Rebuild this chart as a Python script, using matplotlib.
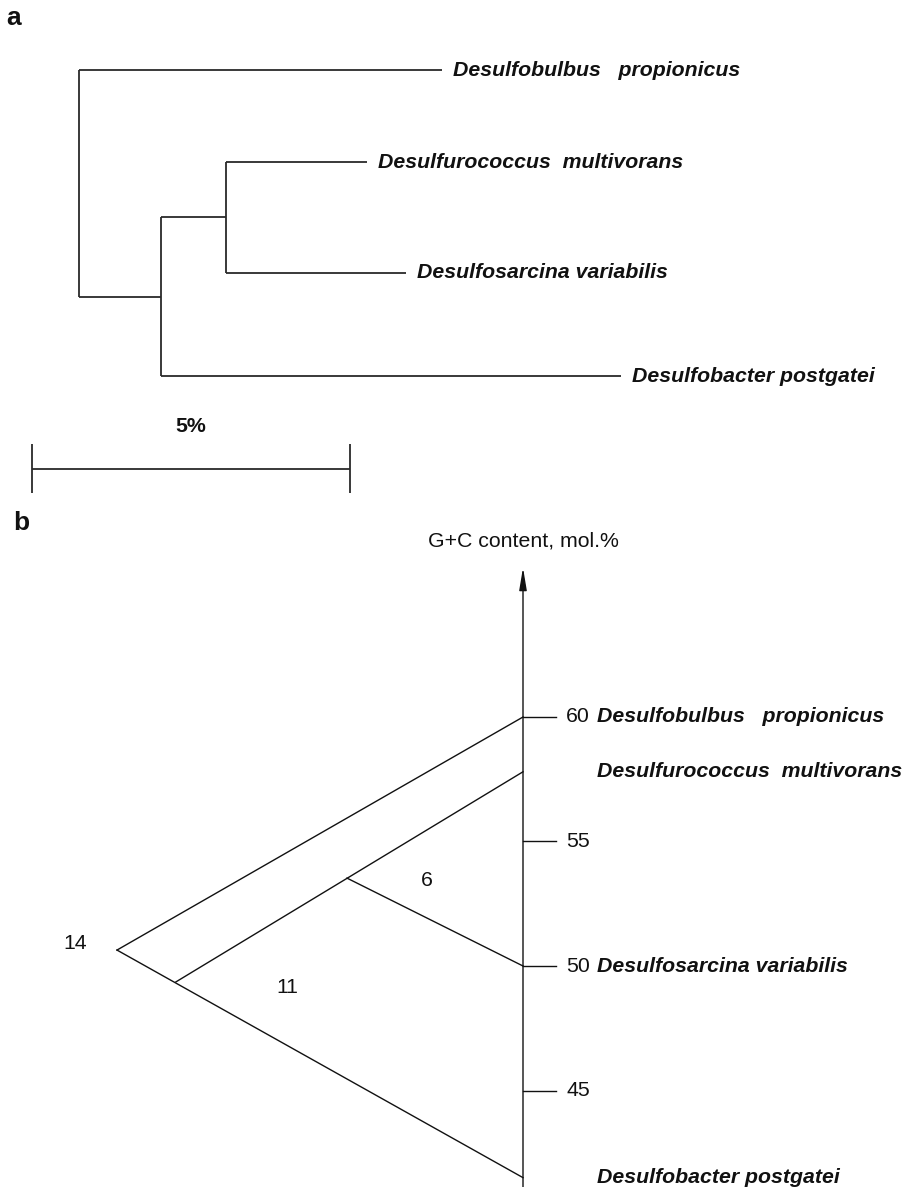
import matplotlib
matplotlib.use("Agg")
import matplotlib.pyplot as plt

plt.rcParams['font.family'] = ['Liberation Sans', 'DejaVu Sans']

# ---------------- data: panel a (16S rRNA tree, % divergence) ----------------
species = ["Desulfobulbus   propionicus", "Desulfurococcus  multivorans",
           "Desulfosarcina variabilis", "Desulfobacter postgatei"]
# branch lengths in % (scale bar = 5 %)
root_to_propionicus = 5.71
root_to_node1 = 1.29
node1_to_node2 = 1.02
node2_to_multivorans = 2.22
node2_to_variabilis = 2.83
node1_to_postgatei = 7.23
scale_bar_value = 5.0
scale_bar_label = "5%"
# vertical placement of the tips (rows)
tip_rows = [0.70, 1.62, 2.73, 3.76]

# ---------------- data: panel b (G+C content) ----------------
gc_axis_label = "G+C content, mol.%"
gc_ticks = [45, 50, 55, 60]
gc_species = ["Desulfobulbus   propionicus", "Desulfurococcus  multivorans",
              "Desulfosarcina variabilis", "Desulfobacter postgatei"]
gc_values = [60.0, 57.8, 50.0, 41.5]
# internal nodes: (distance from axis, G+C)
apex_node = (14.0, 50.64)
inner_node = (11.97, 49.36)
node6 = (6.07, 53.53)
node_labels = ["14", "11", "6"]

W, H = 907, 1187
fig = plt.figure(figsize=(W / 100, H / 100), dpi=100)

FS = 15.3
LC_A = "#2a2a2a"
LW_A = 1.3

# ---------------- panel a ----------------
a_h = 500
ax = fig.add_axes([0, 1 - a_h / H, 1, a_h / H])
px_per_pct = 63.6
root_px = 79
ax.set_xlim(-root_px / px_per_pct, (W - root_px) / px_per_pct)
ax.set_ylim(a_h / 100, 0)
ax.axis("off")

y_prop, y_mult, y_var, y_post = tip_rows
x_root = 0.0
x_n1 = x_root + root_to_node1
x_n2 = x_n1 + node1_to_node2
x_prop = x_root + root_to_propionicus
x_mult = x_n2 + node2_to_multivorans
x_var = x_n2 + node2_to_variabilis
x_post = x_n1 + node1_to_postgatei
y_n2 = (y_mult + y_var) / 2
y_n1 = (y_n2 + y_post) / 2

kw = dict(color=LC_A, lw=LW_A, solid_capstyle="butt")
# root
ax.plot([x_root, x_root], [y_prop, y_n1], **kw)
ax.plot([x_root, x_prop], [y_prop, y_prop], **kw)
ax.plot([x_root, x_n1], [y_n1, y_n1], **kw)
# node1
ax.plot([x_n1, x_n1], [y_n2, y_post], **kw)
ax.plot([x_n1, x_n2], [y_n2, y_n2], **kw)
ax.plot([x_n1, x_post], [y_post, y_post], **kw)
# node2
ax.plot([x_n2, x_n2], [y_mult, y_var], **kw)
ax.plot([x_n2, x_mult], [y_mult, y_mult], **kw)
ax.plot([x_n2, x_var], [y_var, y_var], **kw)

for name, xt, yt in zip(species, [x_prop, x_mult, x_var, x_post], tip_rows):
    ax.annotate(name, (xt, yt), xytext=(8, 0), textcoords="offset points",
                ha="left", va="center", fontsize=FS, fontweight="bold",
                fontstyle="italic", color="#111111")

# scale bar
sb_x0 = -0.74
sb_y = 4.69
ax.plot([sb_x0, sb_x0 + scale_bar_value], [sb_y, sb_y], **kw)
for xx in [sb_x0, sb_x0 + scale_bar_value]:
    ax.plot([xx, xx], [4.44, 4.93], **kw)
ax.text(sb_x0 + scale_bar_value / 2, 4.27, scale_bar_label, ha="center",
        va="center", fontsize=FS, fontweight="bold", color="#111111")

ax.text((14 - root_px) / px_per_pct, 0.18, "a",
        ha="center", va="center", fontsize=19, fontweight="bold", color="#111111")

# ---------------- panel b ----------------
b_top = 500
b_h = H - b_top
bx = fig.add_axes([0, 0, 1, b_h / H])
px_per_unit_x = 29.0
axis_px = 523
px_per_gc = 24.9
gc_ref_px = 717 - b_top  # px of 60 % within panel
bx.set_xlim(axis_px / px_per_unit_x, (axis_px - W) / px_per_unit_x)
bx.set_ylim(60 - (b_h - gc_ref_px) / px_per_gc, 60 + gc_ref_px / px_per_gc)
bx.axis("off")

LC_B = "#111111"
LW_B = 1.0
kb = dict(color=LC_B, lw=LW_B)

ylo, yhi = bx.get_ylim()
arrow_top = 66.0
bx.annotate("", xy=(0, arrow_top), xytext=(0, ylo),
            arrowprops=dict(arrowstyle="-|>,head_length=0.9,head_width=0.15",
                            color=LC_B, lw=LW_B, shrinkA=0, shrinkB=0,
                            mutation_scale=15))
bx.text(0, 67.05, gc_axis_label, ha="center", va="center", fontsize=FS,
        color="#111111")

tick_len = 33 / px_per_unit_x
for t in gc_ticks:
    bx.plot([0, -tick_len], [t, t], **kb)
    bx.annotate(str(t), (0, t), xytext=(31, 0), textcoords="offset points",
                ha="left", va="center", fontsize=FS, color="#111111")

for name, v in zip(gc_species, gc_values):
    bx.annotate(name, (0, v), xytext=(53.5, 0), textcoords="offset points",
                ha="left", va="center", fontsize=FS, fontweight="bold",
                fontstyle="italic", color="#111111")

# branches
bx.plot([apex_node[0], 0], [apex_node[1], gc_values[0]], **kb)
bx.plot([apex_node[0], 0], [apex_node[1], gc_values[3]], **kb)
bx.plot([inner_node[0], 0], [inner_node[1], gc_values[1]], **kb)
bx.plot([node6[0], 0], [node6[1], gc_values[2]], **kb)

bx.text(15.45, 50.92, node_labels[0], ha="center", va="center", fontsize=FS,
        color="#111111")
bx.text(8.14, 49.12, node_labels[1], ha="center", va="center", fontsize=FS,
        color="#111111")
bx.text(3.31, 53.45, node_labels[2], ha="center", va="center", fontsize=FS,
        color="#111111")

bx.text((axis_px - 21) / px_per_unit_x, 60 + (717 - 523) / px_per_gc, "b",
        ha="center", va="center", fontsize=19, fontweight="bold", color="#111111")

fig.savefig("out.png", dpi=100, facecolor="white")
